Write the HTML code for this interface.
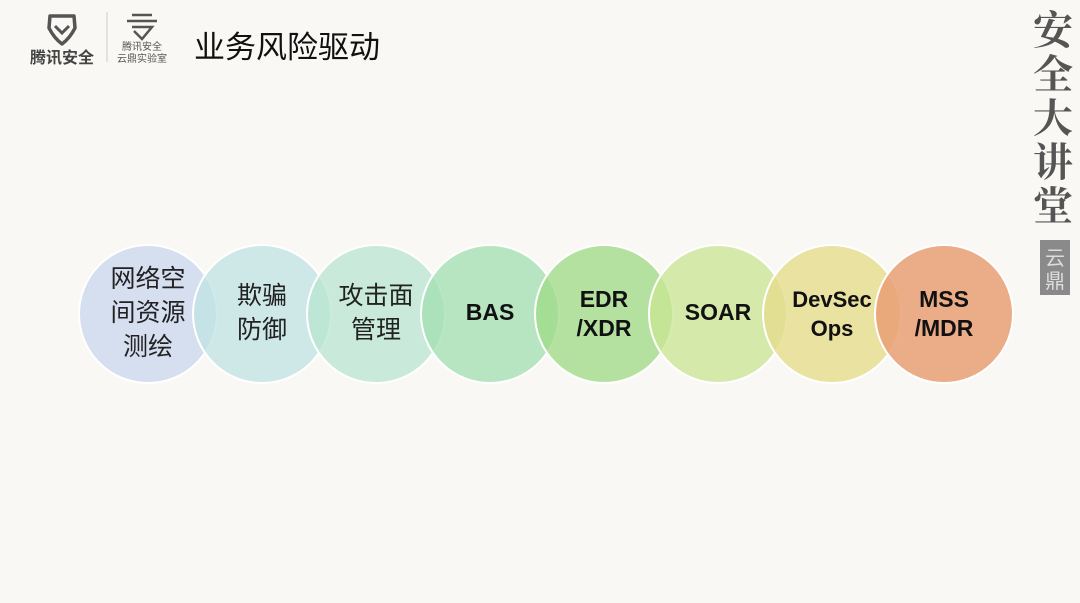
<!DOCTYPE html>
<html><head><meta charset="utf-8"><style>
html,body{margin:0;padding:0;}
body{width:1080px;height:603px;background:#f9f9f6;position:relative;overflow:hidden;font-family:"Liberation Sans","Noto Sans CJK SC",sans-serif;}
.a{position:absolute;}
</style></head><body>
<svg class="a" style="left:0;top:0" width="1080" height="603">
<rect width="1080" height="603" fill="#f9f8f4"/>
<path d="M50 16 L74 16 L75 28 Q70 38 62 44 Q54 38 49 28 Z" fill="none" stroke="#555" stroke-width="3.5" stroke-linejoin="round"/>
<path d="M55 26 L62 33 L69 26" fill="none" stroke="#555" stroke-width="3"/>
<line x1="107" y1="12" x2="107" y2="62" stroke="#ccc" stroke-width="1"/>
<path d="M132 15 L152 15 M127 21 L157 21 M132 27 L152 27 L142 39 L134 31" fill="none" stroke="#555" stroke-width="2.5"/>
<g stroke="#fff" stroke-width="2">
<circle cx="148" cy="314" r="69" fill="#cfdaef" fill-opacity="0.85"/>
<circle cx="262" cy="314" r="69" fill="#bfe3e3" fill-opacity="0.75"/>
<circle cx="376" cy="314" r="69" fill="#b8e6d2" fill-opacity="0.75"/>
<circle cx="490" cy="314" r="69" fill="#a0dfb0" fill-opacity="0.75"/>
<circle cx="604" cy="314" r="69" fill="#9ed984" fill-opacity="0.75"/>
<circle cx="718" cy="314" r="69" fill="#c8e592" fill-opacity="0.75"/>
<circle cx="832" cy="314" r="69" fill="#e6dc8c" fill-opacity="0.8"/>
<circle cx="944" cy="314" r="69" fill="#e99f74" fill-opacity="0.85"/>
</g>
<rect x="1040" y="240" width="30" height="55" fill="#8a8a8a"/>
<text x="1055" y="265" font-size="20" fill="#ddd" text-anchor="middle" font-family="Noto Sans CJK SC">云</text>
<text x="1055" y="288" font-size="20" fill="#ddd" text-anchor="middle" font-family="Noto Sans CJK SC">鼎</text>
</svg>
<div class="a" style="left:30px;top:44px;font-size:16px;font-weight:bold;color:#444;">腾讯安全</div>
<div class="a" style="left:112px;top:42px;font-size:10px;color:#555;line-height:12px;text-align:center;width:60px;white-space:nowrap;">腾讯安全<br>云鼎实验室</div>
<div class="a" style="left:194px;top:22px;font-size:31px;color:#111;">业务风险驱动</div>
<div class="a" style="left:1028px;top:6px;font-size:40px;line-height:44px;color:#555;font-weight:bold;width:50px;text-align:center;font-family:'Noto Serif CJK SC',serif;">安<br>全<br>大<br>讲<br>堂</div>
<div class="a" style="left:79px;top:262px;width:138px;text-align:center;font-size:25px;line-height:34px;color:#222;">网络空<br>间资源<br>测绘</div>
<div class="a" style="left:193px;top:279px;width:138px;text-align:center;font-size:25px;line-height:34px;color:#222;">欺骗<br>防御</div>
<div class="a" style="left:307px;top:279px;width:138px;text-align:center;font-size:25px;line-height:34px;color:#222;">攻击面<br>管理</div>
<div class="a" style="left:421px;top:299px;width:138px;text-align:center;font-size:23px;color:#111;font-weight:bold;">BAS</div>
<div class="a" style="left:535px;top:285px;width:138px;text-align:center;font-size:23px;line-height:29px;color:#111;font-weight:bold;">EDR<br>/XDR</div>
<div class="a" style="left:649px;top:299px;width:138px;text-align:center;font-size:23px;color:#111;font-weight:bold;">SOAR</div>
<div class="a" style="left:763px;top:285px;width:138px;text-align:center;font-size:22px;line-height:29px;color:#111;font-weight:bold;">DevSec<br>Ops</div>
<div class="a" style="left:875px;top:285px;width:138px;text-align:center;font-size:23px;line-height:29px;color:#111;font-weight:bold;">MSS<br>/MDR</div>
</body></html>
